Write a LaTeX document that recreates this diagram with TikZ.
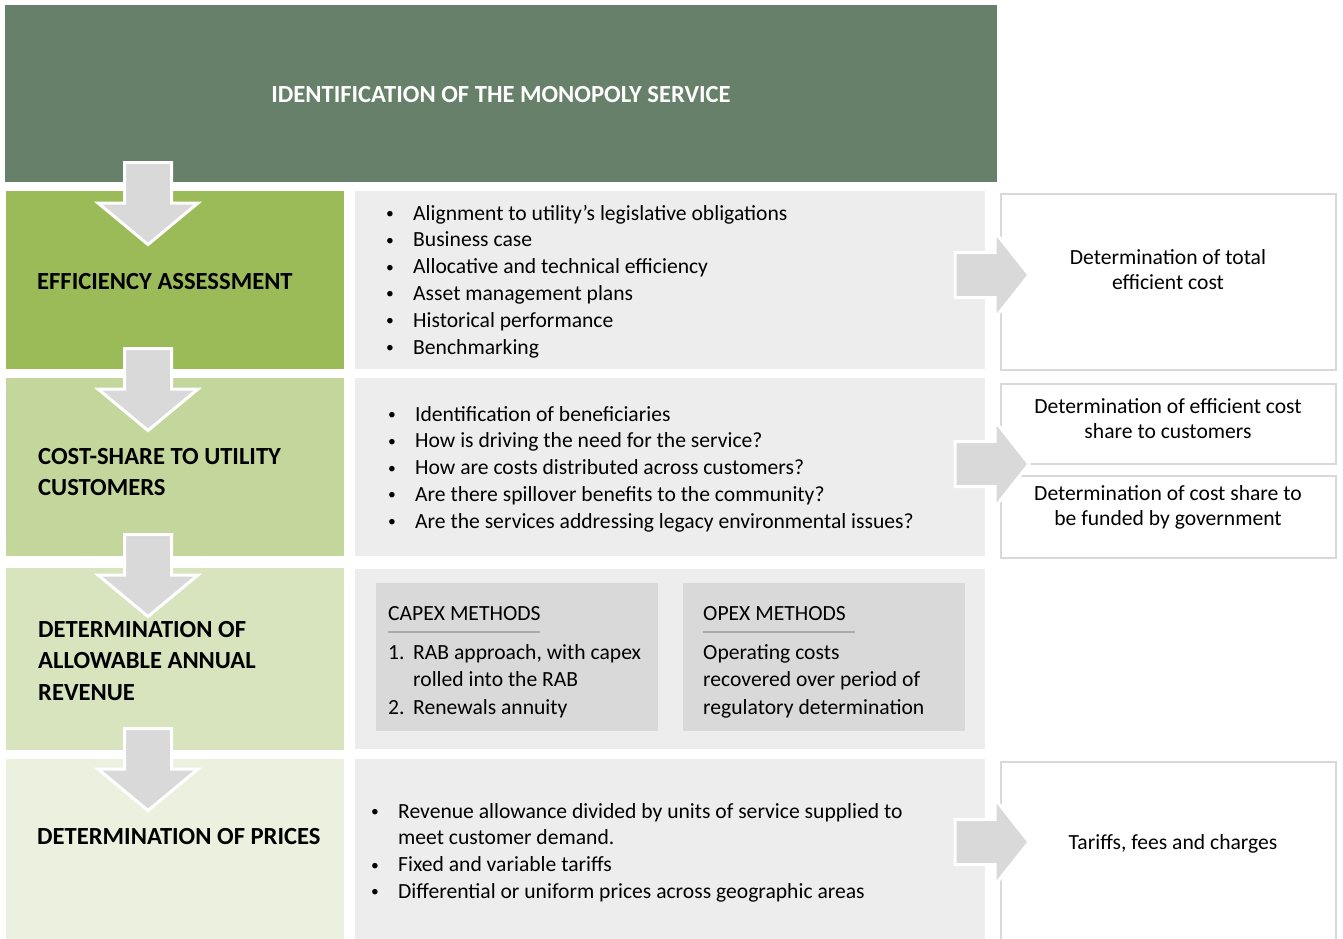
\documentclass[tikz,border=0pt]{standalone}
\usepackage{fontspec}
\setmainfont{Carlito}
\usepackage{array}
\usepackage{graphicx}

\definecolor{hdrgreen}{RGB}{103,128,105}
\definecolor{stageA}{RGB}{155,187,89}
\definecolor{stageB}{RGB}{195,214,155}
\definecolor{stageC}{RGB}{215,228,189}
\definecolor{stageD}{RGB}{235,241,222}
\definecolor{panelgray}{RGB}{237,237,237}
\definecolor{subgray}{RGB}{217,217,217}
\definecolor{arrowgray}{RGB}{217,217,217}
\definecolor{framegray}{RGB}{217,217,217}
\definecolor{rulegray}{RGB}{170,170,170}

\tikzset{
  stagebox/.style={anchor=north west, minimum width=338pt, inner sep=0pt, outer sep=0pt},
  panelbox/.style={anchor=north west, fill=panelgray, minimum width=630pt, inner sep=0pt, outer sep=0pt},
  outbox/.style={anchor=north west, fill=white, draw=framegray, line width=2pt, minimum width=335pt, inner sep=0pt, outer sep=0pt},
  subbox/.style={anchor=north west, fill=subgray, minimum width=282pt, minimum height=148pt, inner sep=0pt, outer sep=0pt},
  stagelabel/.style={anchor=base west, inner sep=0pt, font=\bfseries\fontsize{24.6}{31.5}\selectfont},
  bodytext/.style={anchor=base west, inner sep=0pt, font=\fontsize{21.6}{26.8}\selectfont},
  subtext/.style={anchor=base west, inner sep=0pt, font=\fontsize{21.6}{27.5}\selectfont},
  outtext/.style={align=center, inner sep=0pt, font=\fontsize{21.6}{25}\selectfont},
  blockarrow/.style={fill=arrowgray, draw=white, line width=3pt, line join=miter},
  ruleline/.style={draw=rulegray, line width=2pt},
}

% small list bullet
\newcommand{\itemdot}{\raisebox{1.5pt}{\scalebox{0.72}{•}}}

% down arrow between stages, #1 = top of the shaft
\newcommand{\stagearrow}[1]{%
  \draw[blockarrow] (124.5,#1) -- (171.5,#1) -- (171.5,#1+40.5) -- (198,#1+40.5)
    -- (148,#1+82) -- (98,#1+40.5) -- (124.5,#1+40.5) -- cycle;}
% right arrow into the result boxes, #1 = vertical centre
\newcommand{\resultarrow}[1]{%
  \draw[blockarrow] (955,#1-22.5) -- (995,#1-22.5) -- (995,#1-43) -- (1029,#1)
    -- (995,#1+43) -- (995,#1+22.5) -- (955,#1+22.5) -- cycle;}

\begin{document}
\begin{tikzpicture}[x=1pt,y=-1pt]
\useasboundingbox[fill=white] (0,0) rectangle (1343,938);

% header
\node[anchor=north west, fill=hdrgreen, minimum width=992pt, minimum height=177pt,
      inner sep=0pt, outer sep=0pt] (header) at (5,5) {};
\node[text=white, inner sep=0pt, font=\bfseries\fontsize{24.6}{28}\selectfont]
      (headertext) at (501,95) {IDENTIFICATION OF THE MONOPOLY SERVICE};

% stage column
\node[stagebox, fill=stageA, minimum height=178pt] (eff) at (6,191) {};
\node[stagebox, fill=stageB, minimum height=178pt] (share) at (6,378) {};
\node[stagebox, fill=stageC, minimum height=182pt] (rev) at (6,568) {};
\node[stagebox, fill=stageD, minimum height=180pt] (price) at (6,759) {};

% detail panels
\node[panelbox, minimum height=178pt] (effpanel) at (355,191) {};
\node[panelbox, minimum height=178pt] (sharepanel) at (355,378) {};
\node[panelbox, minimum height=180pt] (revpanel) at (355,569) {};
\node[panelbox, minimum height=180pt] (pricepanel) at (355,759) {};

% result boxes
\node[outbox, minimum height=176pt] (total) at (1001,194) {};
\node[outbox, minimum height=80pt] (custshare) at (1001,384) {};
\node[outbox, minimum height=82pt] (govshare) at (1001,476) {};
\node[outbox, minimum height=190pt] (tariffs) at (1001,762) {};

% stage labels
\node[stagelabel] (effL) at (37,289) {EFFICIENCY ASSESSMENT};
\node[stagelabel] (shareL) at (38,464) {\begin{tabular}[t]{@{}l@{}}COST-SHARE TO UTILITY\\CUSTOMERS\end{tabular}};
\node[stagelabel] (revL) at (38,637) {\begin{tabular}[t]{@{}l@{}}DETERMINATION OF\\ALLOWABLE ANNUAL\\REVENUE\end{tabular}};
\node[stagelabel] (priceL) at (37,844) {DETERMINATION OF PRICES};

% efficiency assessment criteria
\node[bodytext] (effitems) at (386,220) {\begin{tabular}[t]{@{}p{27pt}@{}l@{}}
\itemdot & Alignment to utility’s legislative obligations\\
\itemdot & Business case\\
\itemdot & Allocative and technical efficiency\\
\itemdot & Asset management plans\\
\itemdot & Historical performance\\
\itemdot & Benchmarking
\end{tabular}};

% cost-share questions
\node[bodytext] (shareitems) at (388,421) {\begin{tabular}[t]{@{}p{27pt}@{}l@{}}
\itemdot & Identification of beneficiaries\\
\itemdot & How is driving the need for the service?\\
\itemdot & How are costs distributed across customers?\\
\itemdot & Are there spillover benefits to the community?\\
\itemdot & Are the services addressing legacy environmental issues?
\end{tabular}};

% revenue methods
\node[subbox] (capex) at (376,583) {};
\node[subbox] (opex) at (683,583) {};
\node[subtext] (capexT) at (388,620) {CAPEX METHODS};
\node[subtext] (opexT) at (703,620) {OPEX METHODS};
\draw[ruleline] (388,631.5) -- (540,631.5);
\draw[ruleline] (703,631.5) -- (855,631.5);
\node[subtext] (capexitems) at (388,659) {\begin{tabular}[t]{@{}p{25pt}@{}l@{}}
1. & RAB approach, with capex\\
   & rolled into the RAB\\
2. & Renewals annuity
\end{tabular}};
\node[subtext] (opexitems) at (703,659) {\begin{tabular}[t]{@{}l@{}}
Operating costs\\
recovered over period of\\
regulatory determination
\end{tabular}};

% pricing items
\node[bodytext] (priceitems) at (371,818) {\begin{tabular}[t]{@{}p{27pt}@{}l@{}}
\itemdot & Revenue allowance divided by units of service supplied to\\
         & meet customer demand.\\
\itemdot & Fixed and variable tariffs\\
\itemdot & Differential or uniform prices across geographic areas
\end{tabular}};

% result texts
\node[outtext] (totalT) at (1168,270) {Determination of total\\efficient cost};
\node[outtext] (custT) at (1168,419) {Determination of efficient cost\\share to customers};
\node[outtext] (govT) at (1168,507) {Determination of cost share to\\be funded by government};
\node[outtext] (tariffT) at (1173,844) {Tariffs, fees and charges};

% flow arrows
\stagearrow{162.5}
\stagearrow{348.5}
\stagearrow{534.5}
\stagearrow{728.5}
\resultarrow{275}
\resultarrow{464}
\resultarrow{842}
\end{tikzpicture}
\end{document}
